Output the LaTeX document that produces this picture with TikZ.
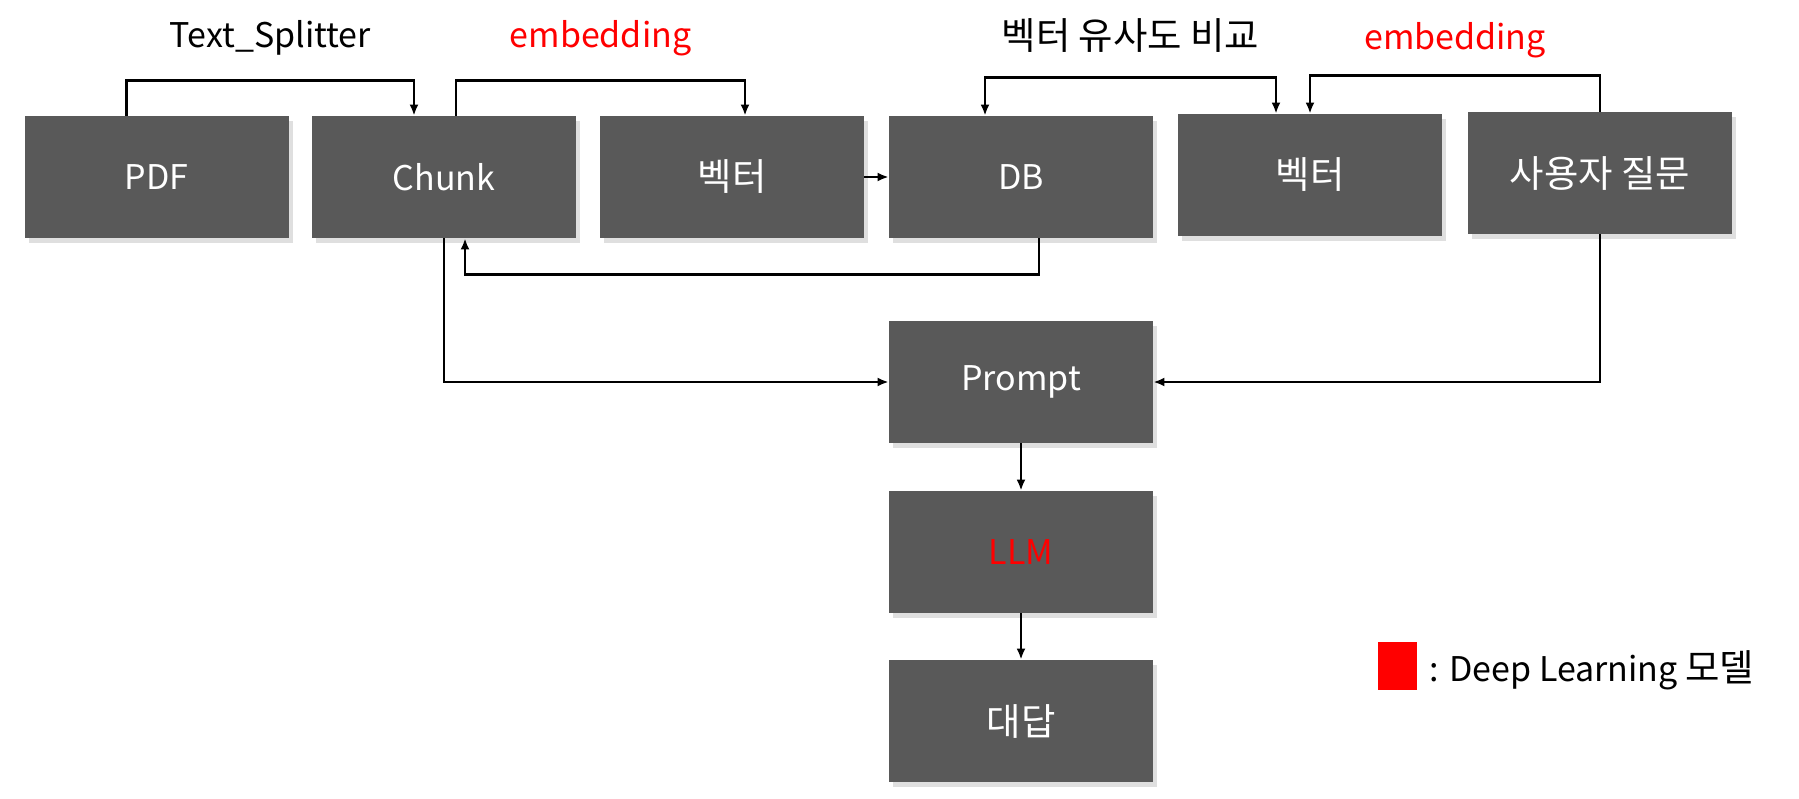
\documentclass[tikz,border=0pt]{standalone}
\usepackage{fontspec}
\setmainfont{Noto Sans CJK KR}
\newfontfamily\kor[Scale=1.1]{Noto Sans CJK KR}
\usepackage{tikz}
\usetikzlibrary{arrows.meta,positioning,shadows,calc}
\definecolor{kasten}{HTML}{595959}

\begin{document}
\begin{tikzpicture}[x=0.5pt,y=-0.5pt,
  >={Latex[length=5.5pt,width=4.5pt]},
  box/.style={fill=kasten,text=white,minimum width=132pt,minimum height=61pt,inner sep=0pt,
    font=\fontsize{17}{20}\selectfont,
    drop shadow={shadow xshift=2pt,shadow yshift=-2.5pt,opacity=0.25}},
  pfeil/.style={line width=1.15pt,->},
  beschr/.style={font=\fontsize{17}{20}\selectfont,anchor=base}]
%Koordinaten in Pixeln des Vorbilds, y zeigt nach unten
\useasboundingbox (0,0) rectangle (1799,798);
%obere Reihe
\node[box] (pdf) at (156.5,177) {PDF};
\node[box] (chunk) at (444,177) {Chunk};
\node[box] (vek1) at (732,177) {\kor 벡터};
\node[box] (db) at (1021,177) {DB};
\node[box] (vek2) at (1310,175) {\kor 벡터};
\node[box] (frage) at (1600,173) {\kor 사용자 질문};
%Spalte unter der DB
\node[box] (prompt) at (1021,382) {Prompt};
\node[box,text=red] (llm) at (1021,552) {LLM};
\node[box] (antwort) at (1021,721) {\kor 대답};
%Verbindungen oben
\draw[pfeil] ([xshift=-15pt]pdf.north) -- ++(0,-35) -| node[pos=0.25,yshift=16.5pt,beschr] (lsplit) {Text\_Splitter} ([xshift=-15pt]chunk.north);
\draw[pfeil] ([xshift=6pt]chunk.north) -- ++(0,-35) -| node[pos=0.25,yshift=16.5pt,beschr,text=red] (lemb1) {embedding} ([xshift=6.5pt]vek1.north);
\draw[pfeil] (vek1) -- (db);
\draw[pfeil,<->] ([xshift=-18pt]db.north) -- ++(0,-38) -| node[pos=0.25,yshift=14pt,beschr] (lvergl) {\kor 벡터 유사도 비교} ([xshift=-17pt]vek2.north);
\draw[pfeil] (frage.north) -- ++(0,-36) -| node[pos=0.25,yshift=13pt,beschr,text=red] (lemb2) {embedding} (vek2.north);
%Rueckweg und Prompt
\draw[pfeil] ([xshift=9pt]db.south) -- ++(0,36) -| ([xshift=10.5pt]chunk.south);
\draw[pfeil] (chunk.south) |- (prompt.west);
\draw[pfeil] (frage.south) |- (prompt.east);
\foreach \a/\b in {prompt/llm,llm/antwort}{
\draw[pfeil] (\a) -- (\b);
}
%Legende
\node[fill=red,minimum width=19.5pt,minimum height=24pt,inner sep=0pt] (legfeld) at (1397.5,666) {};
\node[right=6pt of legfeld,yshift=-2pt,inner sep=0pt,font=\fontsize{17}{20}\selectfont] (legtext) {: Deep Learning {\kor 모델}};
\end{tikzpicture}
\end{document}
